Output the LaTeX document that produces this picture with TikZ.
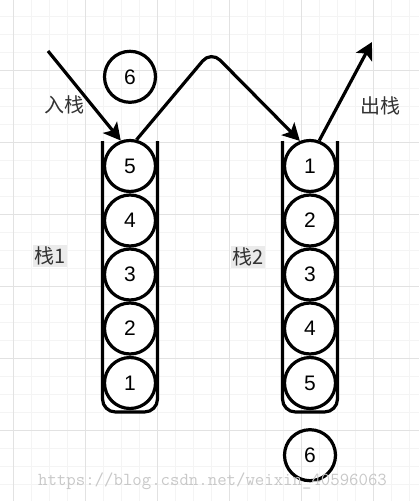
\documentclass[tikz,border=0pt]{standalone}
\usepackage{fontspec}
\setmainfont{Liberation Sans}
\newfontfamily\cjk{Noto Sans CJK SC}
\usetikzlibrary{arrows.meta,positioning}
\definecolor{gridminor}{RGB}{244,244,244}
\definecolor{gridmajor}{RGB}{226,226,226}
\definecolor{labelbg}{RGB}{235,235,235}
\definecolor{textcol}{RGB}{51,51,51}
\definecolor{markcol}{RGB}{200,200,200}

\begin{document}
\begin{tikzpicture}[
    x=1pt, y=-1pt,
    >={Stealth[length=17pt, width=18pt, inset=4pt]},
    ball/.style={circle, draw, line width=3.2pt, minimum size=51pt, inner sep=0pt, font=\fontsize{21}{21}\selectfont},
    tube/.style={line width=3.2pt, rounded corners=13pt},
    arrow/.style={->, line width=3.2pt, rounded corners=13pt},
    caption/.style={font=\cjk\fontsize{20}{20}\selectfont, text=textcol, inner sep=1.5pt},
]
\useasboundingbox (0,0) rectangle (419,501);
\fill[white] (0,0) rectangle (419,501);

% background grid
\foreach \x in {13,31,...,409} \draw[gridminor, line width=1pt] (\x,0) -- (\x,501);
\foreach \y in {16,34,...,500} \draw[gridminor, line width=1pt] (0,\y) -- (419,\y);
\foreach \x in {13,85,...,373} \draw[gridmajor, line width=1pt] (\x,0) -- (\x,501);
\foreach \y in {70,142,...,430} \draw[gridmajor, line width=1pt] (0,\y) -- (419,\y);

% the two stacks
\draw[tube] (102.5,141) -- (102.5,412) -- (157.5,412) -- (157.5,141);
\draw[tube] (282.5,141) -- (282.5,412) -- (337.5,412) -- (337.5,141);

\foreach \n/\y in {5/166, 4/220.5, 3/274.5, 2/328.5, 1/383}
    \node[ball, fill=white] (s1n\n) at (130,\y) {\n};
\foreach \n/\y in {1/166, 2/220.5, 3/274.5, 4/328.5, 5/383}
    \node[ball, fill=white] (s2n\n) at (310,\y) {\n};

\node[ball] (s1top) [above=35pt of s1n5] {6};
\node[ball] (s2out) [below=18pt of s2n5] {6};

% push / move / pop
\coordinate (pushin) at (48,51);
\coordinate (peak) at (211,51);
\coordinate (popout) at (372,42);

\draw[arrow] (pushin) -- (s1n5.110);
\draw[arrow] (s1n5.76) -- (peak) -- (s2n1.112);
\draw[arrow] (s2n1.70) -- (popout);

\node[caption] (pushlbl) at (64,105) {入栈};
\node[caption] (poplbl) at (380,106) {出栈};
\node[caption, fill=labelbg] (stack1) at (50,256) {栈1};
\node[caption, fill=labelbg] (stack2) at (248,257) {栈2};

\node[anchor=west, text=markcol, inner sep=0pt, font=\ttfamily\fontsize{18.3}{18.3}\selectfont] (mark) at (38,481) {https://blog.csdn.net/weixin\_40596063};
\end{tikzpicture}
\end{document}
